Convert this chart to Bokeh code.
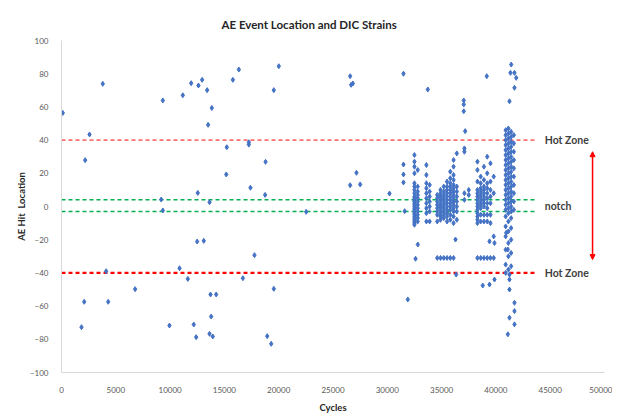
from bokeh.plotting import figure
from bokeh.models import Label, Arrow, NormalHead, Title, FixedTicker
from bokeh.embed import file_html
from bokeh.resources import INLINE

# ---- data -------------------------------------------------------------
# isolated AE events (cycles, hit location)
early_cycles = [120, 3800, 2580, 2180, 9330, 11170, 11940, 12610, 12950, 13410,
                13840, 13500, 12550, 13630, 9180, 9330, 15780, 16330, 20010, 19550,
                26580, 26670, 26830, 17250, 17250, 15220, 18790, 15170, 17400, 18750,
                27160, 26580, 27500, 30200, 22530, 12490, 13100, 17770, 10870, 4110,
                11630, 16700, 6780, 19550, 2090, 4300, 13720, 14240, 13780, 1840,
                9940, 12180, 13630, 13930, 12400, 18940, 19310]
early_loc = [56.4, 73.9, 43.4, 27.9, 63.9, 67, 74.3, 72.9, 76.3, 70.1,
             59.4, 49.2, 8.2, 2.6, 4.2, -2.4, 76.3, 82.5, 84.5, 70.1,
             78.5, 73.3, 74.1, 38.7, 37.3, 35.7, 26.9, 19.3, 11.3, 7.0,
             20.3, 12.8, 13.3, 7.8, -3.2, -21.1, -20.7, -29.3, -37.2, -39,
             -43.6, -43.2, -49.8, -49.6, -57.4, -57.4, -53, -53, -66.3, -72.7,
             -71.7, -71.1, -76.7, -78.3, -78.7, -78.1, -82.7]

# outliers around the dense late band
late_cycles = [31490, 33730, 37040, 37040, 37040, 37170, 39160, 41410, 41340, 41710,
               41870, 41250, 41710, 32810, 32600, 31890, 36280, 36340, 39410, 39870,
               39870, 39410, 38790, 40950, 41100, 41250, 41250, 41250, 41710, 41710,
               41710, 41100, 41250, 31490, 31490, 31490, 31600]
late_loc = [80, 70.5, 63.9, 61.5, 57.4, 45.4, 78.5, 85.5, 80.5, 80.5,
            77.5, 63.4, 71.5, -22.9, -31.5, -56, -19.9, -41, -21, -22,
            -44, -47, -47.6, -15.8, -25.9, -41, -44, -50, -58, -63,
            -71, -77, -67, 25.3, 19.3, 14.5, -2.8]

# dense band: cycles of each column and the hit locations recorded in it
band_cycles = [32500, 32800, 33600, 33900, 34600, 34900, 35200, 35500, 35800, 36100,
               36400, 37100, 37500, 38300, 38600, 38900, 39200, 39500, 39800,
               40900, 41150, 41400, 41650]
band_locs = [
    [31, 27, 24, 20, 14, 12, 10, 8, 6, 5, 4, 3, 2, 1, 0, -1, -2, -3, -4, -5, -6, -7, -8, -9, -10, -11],
    [22, 12, 9, 7, 5, 3, 1, -1, -3, -5, -7, -9],
    [25, 19, 14, 11, 8, 5, 2, -1, -4, -9],
    [13, 9, 6, 3, 0, -3, -9],
    [7, 5, 3, 1, -1, -3, -5, -9, -31],
    [10, 8, 6, 4, 2, 0, -2, -4, -6, -8, -31],
    [12, 9, 7, 5, 3, 1, -1, -3, -5, -7, -31],
    [15, 12, 10, 8, 6, 4, 2, 0, -2, -4, -6, -9, -31],
    [21, 17, 14, 12, 10, 8, 6, 4, 2, 0, -2, -5, -8, -31],
    [28, 24, 19, 16, 13, 11, 9, 7, 5, 3, 1, -1, -3, -6, -10, -31],
    [32, 12, 9, 6, 3, 0, -3, -8],
    [35, 33, 8, 4],
    [10, 7],
    [27, 22, 15, 10, 8, 6, 4, 2, 0, -2, -4, -6, -8, -10, -31],
    [18, 14, 11, 9, 7, 5, 3, 1, -1, -5, -9, -31],
    [24, 16, 12, 10, 8, 6, 4, 2, 0, -5, -9, -31],
    [30, 20, 14, 11, 8, 5, 2, -1, -5, -9, -31],
    [26, 15, 10, 6, 2, -5, -10, -31],
    [18, 8, -18, -31],
    [46, 43, 40, 37, 34, 31, 28, 25, 22, 19, 16, 13, 10, 7, 4, 1, -2, -6, -12, -18, -26, -35, -40],
    [47, 44, 41, 38, 35, 32, 29, 26, 23, 20, 17, 14, 11, 8, 5, 2, -1, -4, -9, -15, -22, -30, -38],
    [45, 42, 39, 36, 33, 30, 27, 24, 21, 18, 15, 12, 9, 6, 3, 0, -3, -7, -13, -20, -28, -36],
    [43, 38, 33, 28, 23, 18, 13, 8, 3, -2],
]

hot_zone_y = [40, -40]
notch_y = [4, -3]
guide_x = [0, 43800]          # extent of the reference lines (cycles)
label_x = 44500               # where the line labels sit (cycles)
arrow_x = 48900
arrow_y = [33, -32]

x_ticks = list(range(0, 50001, 5000))
y_ticks = list(range(-100, 101, 20))

# ---- assemble points --------------------------------------------------
xs = list(early_cycles) + list(late_cycles)
ys = list(early_loc) + list(late_loc)
for c, locs in zip(band_cycles, band_locs):
    xs += [c] * len(locs)
    ys += locs

FONT = "Lato"

p = figure(frame_width=543, frame_height=332, output_backend="svg", toolbar_location=None,
           x_range=(0, 50000), y_range=(-100, 100),
           min_border_left=61, min_border_right=8, min_border_top=40, min_border_bottom=28)
p.title = None
p.add_layout(Title(text="AE Event Location and DIC Strains", text_font=FONT,
                   text_font_size="11.5px", text_font_style="bold", text_color="#262626",
                   align="left", offset=160, standoff=19), "above")

p.outline_line_color = None
p.grid.grid_line_color = None
p.background_fill_color = "white"
p.border_fill_color = "white"

for ax in (p.xaxis[0], p.yaxis[0]):
    ax.axis_line_color = "#d9d9d9"
    ax.major_tick_line_color = None
    ax.minor_tick_line_color = None
    ax.major_label_text_font = FONT
    ax.major_label_text_font_size = "8px"
    ax.major_label_text_color = "#595959"
    ax.axis_label_text_font = FONT
    ax.axis_label_text_font_size = "9.5px"
    ax.axis_label_text_font_style = "bold"
    ax.axis_label_text_color = "#262626"

p.xaxis.ticker = FixedTicker(ticks=x_ticks)
p.yaxis.ticker = FixedTicker(ticks=y_ticks)
p.xaxis.axis_label = "Cycles"
p.yaxis.axis_label = "AE Hit\u00a0\u00a0Location"
p.xaxis.major_label_standoff = 8
p.yaxis.major_label_standoff = 7
p.xaxis.axis_label_standoff = 6
p.yaxis.axis_label_standoff = 0

# reference lines
p.line(guide_x, [hot_zone_y[0]] * 2, line_color="#ff7070", line_width=1.6, line_dash="4 3")
p.line(guide_x, [hot_zone_y[1]] * 2, line_color="#ff0000", line_width=2.2, line_dash="4 3")
for ny in notch_y:
    p.line(guide_x, [ny] * 2, line_color="#00b050", line_width=1.5, line_dash="4 3")

# data
p.scatter(xs, ys, marker="diamond", size=5, fill_color="#4472c4", line_color="#4472c4")

# annotations
for ty, txt in ((hot_zone_y[0], "Hot Zone"), (0.5, "notch"), (hot_zone_y[1], "Hot Zone")):
    p.add_layout(Label(x=label_x, y=ty, text=txt, text_font=FONT, text_font_size="10.5px",
                       text_font_style="bold", text_color="#404040", text_baseline="middle"))

p.add_layout(Arrow(x_start=arrow_x, y_start=arrow_y[1], x_end=arrow_x, y_end=arrow_y[0],
                   line_color="#ff0000", line_width=1.5,
                   start=NormalHead(size=5, fill_color="#ff0000", line_color="#ff0000"),
                   end=NormalHead(size=5, fill_color="#ff0000", line_color="#ff0000")))

open("out.html", "w").write(file_html(p, INLINE))
